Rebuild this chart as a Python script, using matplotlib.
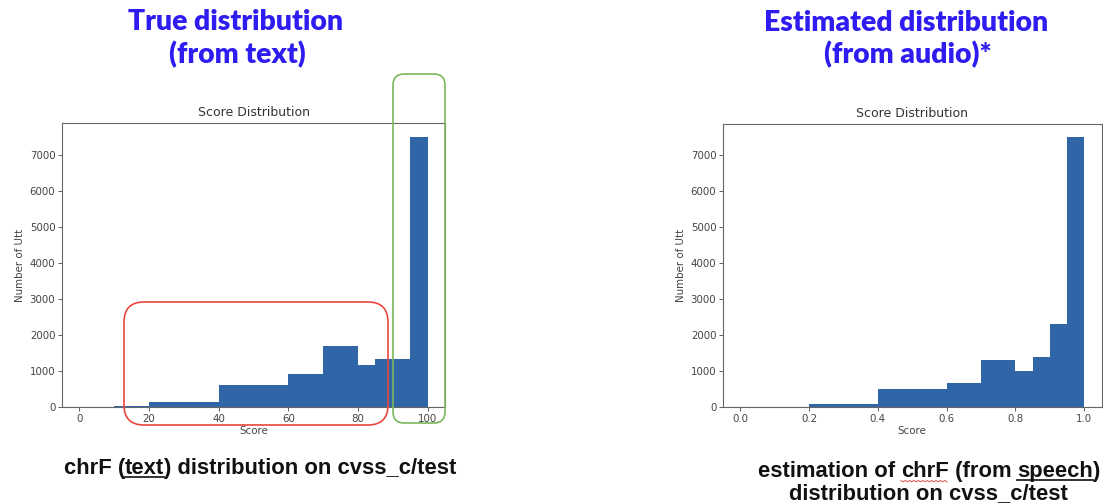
import matplotlib
matplotlib.use("Agg")
import matplotlib.pyplot as plt
from matplotlib.patches import FancyBboxPatch
from matplotlib.lines import Line2D
from matplotlib.transforms import IdentityTransform

# ---- data ----
text_edges = [10, 20, 40, 60, 70, 80, 85, 95, 100]
text_counts = [25, 140, 600, 905, 1700, 1165, 1340, 7500]
text_xticks = [0, 20, 40, 60, 80, 100]

audio_edges = [0.2, 0.4, 0.6, 0.7, 0.8, 0.85, 0.9, 0.95, 1.0]
audio_counts = [90, 500, 680, 1320, 1000, 1390, 2320, 7500]
audio_xticks = [0.0, 0.2, 0.4, 0.6, 0.8, 1.0]

yticks = [0, 1000, 2000, 3000, 4000, 5000, 6000, 7000]

W, H = 1103, 504
fig = plt.figure(figsize=(W / 100, H / 100), dpi=100)
fig.patch.set_facecolor("white")

BAR = "#3066a8"
AX_FS = 7.4


def make_ax(rect, edges, counts, xticks, xlim, fmt):
    ax = fig.add_axes(rect)
    ax.hist(edges[:-1], bins=edges, weights=counts, color=BAR)
    ax.set_xlim(*xlim)
    ax.set_ylim(0, 7875)
    ax.set_xticks(xticks)
    ax.set_xticklabels([fmt(v) for v in xticks])
    ax.set_yticks(yticks)
    ax.tick_params(labelsize=AX_FS, length=2.6, width=0.6, colors="#444444",
                   labelcolor="#444444", pad=2.2)
    for s in ax.spines.values():
        s.set_linewidth(0.8)
        s.set_color("#666666")
    ax.set_title("Score Distribution", fontsize=9, color="#333333", pad=5)
    ax.set_xlabel("Score", fontsize=AX_FS, color="#444444", labelpad=1.5)
    ax.set_ylabel("Number of Utt", fontsize=AX_FS, color="#444444", labelpad=3.5)
    return ax


def px_rect(x0, y0, x1, y1):
    return [x0 / W, 1 - y1 / H, (x1 - x0) / W, (y1 - y0) / H]


ax1 = make_ax(px_rect(62, 123, 445, 407), text_edges, text_counts, text_xticks,
              (-5, 105), lambda v: f"{v:d}")
ax2 = make_ax(px_rect(723, 124, 1101.5, 407), audio_edges, audio_counts, audio_xticks,
              (-0.05, 1.05), lambda v: f"{v:.1f}")

# ---- headings ----
BLUE = "#2e1cf0"
HFONT = ["Lato", "DejaVu Sans"]
HFS = 20.4


def ftext(x, y, s, **kw):
    return fig.text(x / W, 1 - y / H, s, **kw)


ftext(236, 30, "True distribution", ha="center", va="baseline", color=BLUE,
      fontsize=HFS, fontweight="heavy", family=HFONT)
ftext(237, 63, "(from text)", ha="center", va="baseline", color=BLUE,
      fontsize=HFS, fontweight="heavy", family=HFONT)
ftext(906, 31, "Estimated distribution", ha="center", va="baseline", color=BLUE,
      fontsize=HFS, fontweight="heavy", family=HFONT)
ftext(908, 63, "(from audio)*", ha="center", va="baseline", color=BLUE,
      fontsize=HFS, fontweight="heavy", family=HFONT)

# ---- captions with underlines ----
CFONT = ["Liberation Sans", "DejaVu Sans"]
CFS = 15.8
renderer = fig.canvas.get_renderer()
pix = IdentityTransform()


def seg_width(s):
    t = fig.text(0, 0, s, fontsize=CFS, fontweight="bold", family=CFONT)
    w = t.get_window_extent(renderer).width
    t.remove()
    return w


def advance(prefix):
    if not prefix:
        return 0.0
    return seg_width("l" + prefix + "l") - seg_width("ll")


def caption_line(cx, base_y, segments):
    full = "".join(s for s, _ in segments)
    total = seg_width(full)
    x = cx - total / 2
    prefix = ""
    for s, deco in segments:
        x0 = x + advance(prefix)
        t = ftext(x0, base_y, s, ha="left", va="baseline", fontsize=CFS,
                  fontweight="bold", family=CFONT, color="#111111")
        bb = t.get_window_extent(renderer)
        prefix += s
        if deco == "u":
            yy = H - (base_y + 2.5)
            fig.add_artist(Line2D([bb.x0, bb.x1], [yy, yy], transform=pix,
                                  color="#222222", lw=1.3))
        elif deco == "w":
            xs, ys = [], []
            k = 0
            xx = bb.x0
            while xx <= bb.x1:
                xs.append(xx)
                ys.append(H - (base_y + 3.5 + (1.3 if k % 2 else 0)))
                xx += 2.2
                k += 1
            fig.add_artist(Line2D(xs, ys, transform=pix, color="#e05050", lw=0.7))


caption_line(260, 474, [("chrF (", None), ("text", "u"),
                        (") distribution on cvss_c/test", None)])
caption_line(929, 477, [("estimation of ", None), ("chrF", "w"), (" (from ", None),
                        ("speech", "u"), (")", None)])
caption_line(928, 499, [("distribution on cvss_c/test", None)])

# ---- highlight boxes ----
red = FancyBboxPatch((124, H - 425), 264, 123, boxstyle="round,pad=0,rounding_size=20",
                     transform=pix, fill=False, edgecolor="#e8473d", lw=1.2, zorder=10)
green = FancyBboxPatch((393, H - 423), 52, 349, boxstyle="round,pad=0,rounding_size=11",
                       transform=pix, fill=False, edgecolor="#7cb75c", lw=1.2, zorder=10)
fig.add_artist(red)
fig.add_artist(green)

fig.savefig("out.png", dpi=100, facecolor="white")
